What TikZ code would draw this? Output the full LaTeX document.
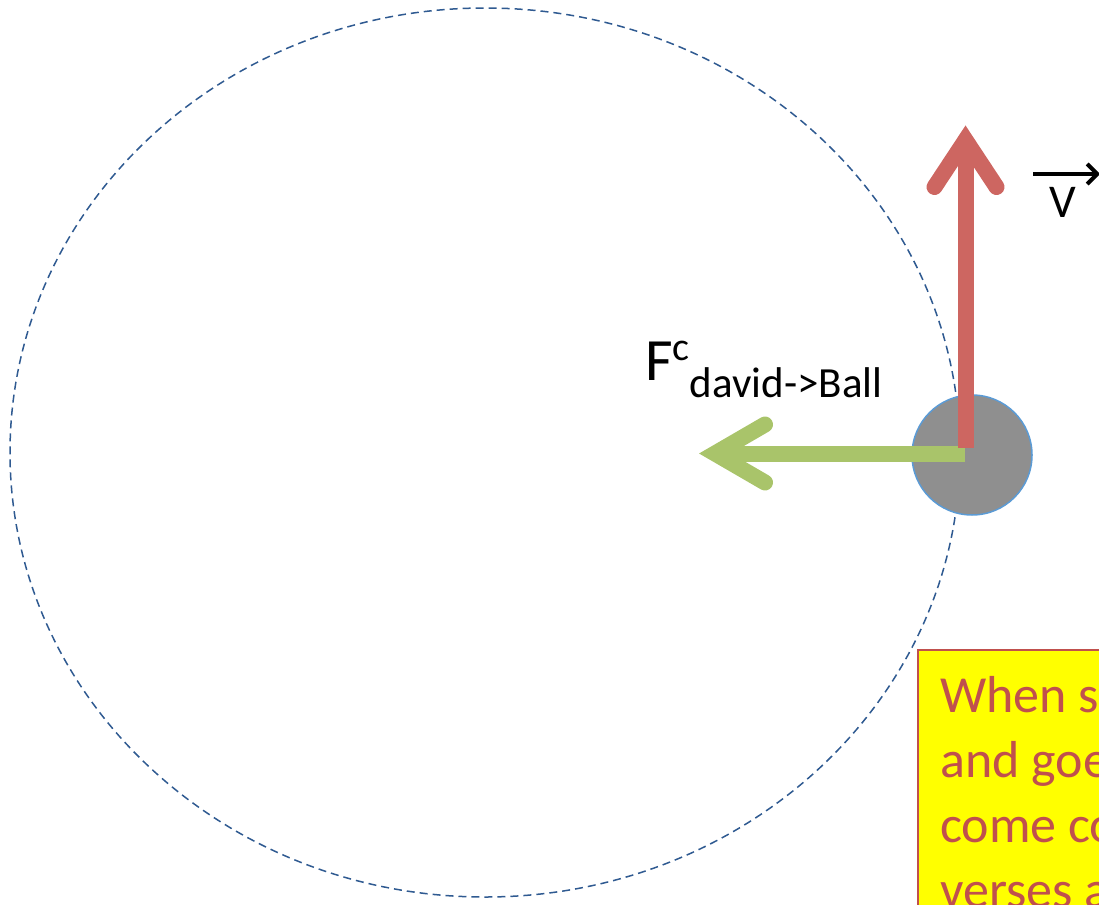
\documentclass[tikz,border=0pt]{standalone}
\usepackage{fontspec}
\setmainfont{Carlito}
\usetikzlibrary{arrows.meta, calc}
\definecolor{orbitblue}{RGB}{47,90,145}
\definecolor{velred}{RGB}{205,102,97}
\definecolor{forcegreen}{RGB}{169,196,106}
\definecolor{ballgrey}{RGB}{143,143,143}
\definecolor{ballrim}{RGB}{91,155,213}
\definecolor{notered}{RGB}{192,80,77}
\definecolor{noteyellow}{RGB}{255,255,0}
\tikzset{
    orbit/.style={draw=orbitblue, line width=1.5pt, dash pattern=on 8pt off 5pt},
    ball/.style={circle, fill=ballgrey, draw=ballrim, line width=1.5pt, minimum size=120pt, inner sep=0pt},
    velshaft/.style={draw=velred, line width=16pt},
    velhead/.style={draw=velred, line width=16pt, line cap=round},
    forceshaft/.style={draw=forcegreen, line width=16pt},
    forcehead/.style={draw=forcegreen, line width=16pt, line cap=round},
    vecbar/.style={draw=black, line width=4pt, -{Straight Barb[length=10pt, width=20pt]}},
    notebox/.style={draw=notered, fill=noteyellow, line width=2pt},
    notetext/.style={anchor=base west, inner sep=0pt, text=notered, font=\fontsize{52}{60}\selectfont},
    flabel/.style={anchor=base west, inner sep=0pt, font=\fontsize{60}{64}\selectfont}
}
\begin{document}
\begin{tikzpicture}[x=1pt, y=-1pt]
    \useasboundingbox (0,0) rectangle (1099,904);
    \clip (0,0) rectangle (1099,904);
    % path of the ball
    \draw[orbit] (485,452.5) ellipse [x radius=475, y radius=444.5];
    \node[ball] (ball) at (972,455) {};
    % centripetal force
    \coordinate (fstart) at (965,453.5);
    \coordinate (fhead) at (715,453.5);
    \draw[forceshaft] (fstart) -- (fhead);
    \draw[forcehead] ($(fhead)+(50,-29)$) -- (fhead) -- ($(fhead)+(50,29)$);
    % velocity
    \coordinate (vstart) at (965.5,448);
    \coordinate (vhead) at (965.5,140);
    \draw[velshaft] (vstart) -- (vhead);
    \draw[velhead] ($(vhead)+(-31,47)$) -- (vhead) -- ($(vhead)+(31,47)$);
    % labels
    \node[flabel] (flab) at (645,380) {F\raisebox{20pt}{\fontsize{40}{44}\selectfont c}\raisebox{-17pt}{\fontsize{43}{46}\selectfont david->Ball}};
    \node[anchor=base west, inner sep=0pt, font=\fontsize{47}{50}\selectfont] (vlab) at (1049,217) {V};
    \coordinate (vbarL) at (1033,174);
    \coordinate (vbarR) at (1100,174);
    \draw[vecbar] (vbarL) -- (vbarR);
    % note
    \draw[notebox] (918,650) rectangle (1130,930);
    \foreach \txt [count=\i] in {When s, and goe, come co, verses a}
        \node[notetext] (note\i) at (940,712+65*\i-65) {\txt};
\end{tikzpicture}
\end{document}
